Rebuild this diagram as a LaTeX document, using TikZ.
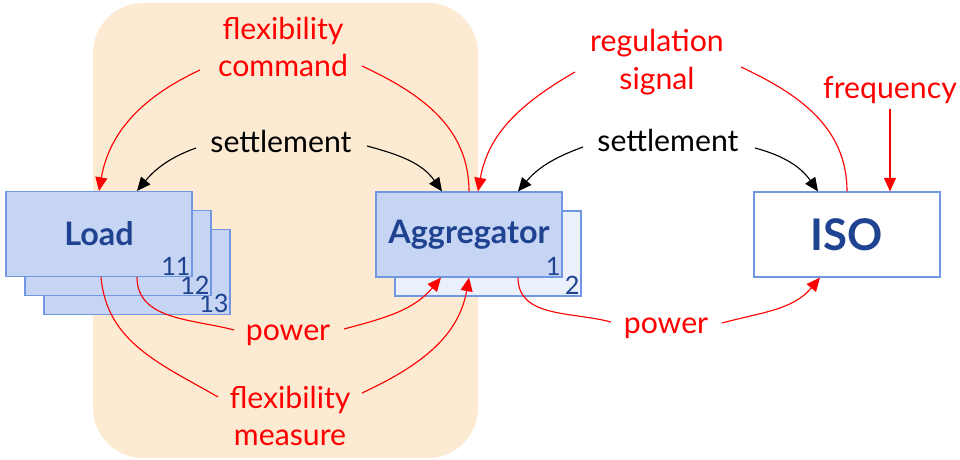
\documentclass[tikz,border=0pt]{standalone}
\usepackage{fontspec}
\setmainfont{Lato}
\usetikzlibrary{arrows.meta}
\definecolor{peach}{HTML}{FDEAD3}
\definecolor{boxfill}{HTML}{C6D5F3}
\definecolor{boxpale}{HTML}{EBF1FC}
\definecolor{boxline}{HTML}{7196E2}
\definecolor{navy}{HTML}{1F4390}
\begin{document}
\begin{tikzpicture}[x=0.025cm, y=0.025cm,
    unit/.style={rectangle, draw=boxline, line width=0.8pt, fill=boxfill,
      minimum width=4.65cm, minimum height=2.125cm, inner sep=0pt,
      text=navy, font=\fontsize{23}{27}\selectfont\bfseries},
    num/.style={anchor=south east, inner sep=1.2pt, text=navy,
      font=\fontsize{18}{20}\selectfont},
    lbl/.style={align=center, font=\fontsize{21.5}{27}\selectfont},
    flow/.style={red, line width=0.8pt},
    flowtip/.style={flow, -{Triangle[length=3.4mm, width=3mm]}},
    pay/.style={black, line width=0.8pt, -{Triangle[length=3.4mm, width=3mm]}}]
  \useasboundingbox (0,0) rectangle (960,460);

  % aggregator domain
  \fill[peach, rounded corners=1.25cm] (93,2) rectangle (478,457);

  % boxes
  \node[unit] (load3) at (137,188) {};
  \node[num] (n13) at (load3.south east) {13};
  \node[unit] (load2) at (118,207) {};
  \node[num] (n12) at (load2.south east) {12};
  \node[unit] (load1) at (99,226) {Load};
  \node[num] (n11) at (load1.south east) {11};

  \node[unit, fill=boxpale] (agg2) at (488,206.5) {};
  \node[num] (n2) at (agg2.south east) {2};
  \node[unit] (agg1) at (469,225.5) {Aggregator};
  \node[num] (n1) at (agg1.south east) {1};

  \node[unit, fill=white, font=\fontsize{31}{34}\selectfont\bfseries] (iso) at (847,225.5) {ISO};

  % labels
  \node[lbl, text=red] (cmd) at (283,413) {flexibility\\command};
  \node[lbl] (settleA) at (281,319) {settlement};
  \node[lbl, text=red] (reg) at (657,398) {regulation\\signal};
  \node[lbl] (settleB) at (668,320) {settlement};
  \node[lbl, text=red] (freq) at (890,370) {frequency};
  \node[lbl, text=red] (powA) at (288,125) {power};
  \node[lbl, text=red] (meas) at (290,44) {flexibility\\measure};
  \node[lbl, text=red] (powB) at (666,132) {power};

  % commands
  \draw[flow] (agg1.north) to[out=90, in=-25] ([shift={(79,-19)}]cmd.center);
  \draw[flowtip] ([shift={(-83,-23)}]cmd.center) to[out=205, in=80] (load1.north);
  \draw[flow] (iso.north) to[out=90, in=-25] ([shift={(84,-5)}]reg.center);
  \draw[flowtip] ([shift={(-82,-10)}]reg.center) to[out=210, in=80] ([xshift=9*0.025cm]agg1.north);
  \draw[flowtip] (freq.south) -- (freq.south |- iso.north);

  % settlement
  \draw[pay] ([shift={(-85,-7)}]settleA.center) to[out=200, in=50] ([xshift=38*0.025cm]load1.north);
  \draw[pay] ([shift={(86,-5)}]settleA.center) to[out=-15, in=125] ([xshift=-27*0.025cm]agg1.north);
  \draw[pay] ([shift={(-85,-7)}]settleB.center) to[out=200, in=50] ([xshift=49*0.025cm]agg1.north);
  \draw[pay] ([shift={(87,-8)}]settleB.center) to[out=-15, in=125] ([xshift=-29*0.025cm]iso.north);

  % measurements
  \draw[flow] ([xshift=38*0.025cm]load1.south) to[out=-90, in=165] ([shift={(-54,5)}]powA.center);
  \draw[flowtip] ([shift={(56,6)}]powA.center) to[out=15, in=230] ([xshift=-28*0.025cm]agg1.south);
  \draw[flow] ([xshift=2*0.025cm]load1.south) to[out=-85, in=150] ([shift={(-72,19)}]meas.center);
  \draw[flowtip] ([shift={(72,23)}]meas.center) to[out=25, in=-100] (agg1.south);
  \draw[flow] ([xshift=49*0.025cm]agg1.south) to[out=-90, in=165] ([shift={(-55,6)}]powB.center);
  \draw[flowtip] ([shift={(56,5)}]powB.center) to[out=15, in=230] ([xshift=-27*0.025cm]iso.south);
\end{tikzpicture}
\end{document}
